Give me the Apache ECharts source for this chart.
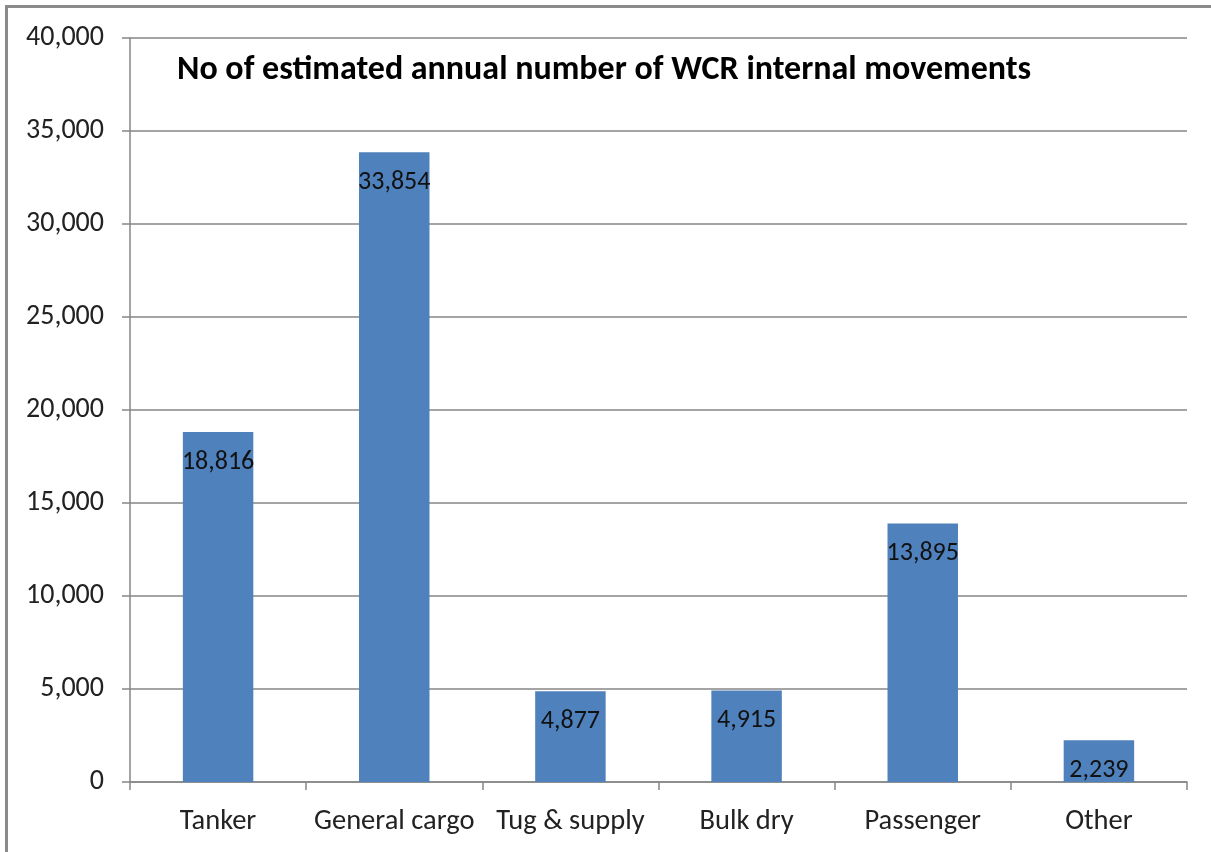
<!DOCTYPE html>
<html>
<head>
<meta charset="utf-8">
<style>
  html, body { margin: 0; padding: 0; background: #fff; }
  #frame { position: absolute; left: 5px; top: 5px; width: 1220px; height: 860px;
           border-top: 3px solid #8a8a8a; border-left: 3px solid #8a8a8a; box-sizing: border-box; }
  #chart { position: absolute; left: 0; top: 0; width: 1211px; height: 852px; }
</style>
<script src="https://cdn.jsdelivr.net/npm/echarts@6/dist/echarts.min.js"></script>
</head>
<body>
<div id="frame"></div>
<div id="chart"></div>
<script>
// Vessel categories and their estimated annual internal movements
const categories = ['Tanker', 'General cargo', 'Tug & supply', 'Bulk dry', 'Passenger', 'Other'];
const movements = [18816, 33854, 4877, 4915, 13895, 2239];
const titleText = 'No of estimated annual number of WCR internal movements';

const font = 'Carlito, "Open Sans", "Liberation Sans", sans-serif';
const fmt = v => v.toLocaleString('en-US');

const chart = echarts.init(document.getElementById('chart'), null, { renderer: 'canvas' });
chart.setOption({
  animation: false,
  title: {
    text: titleText,
    left: 172, top: 48,
    textStyle: { fontFamily: font, fontWeight: 'bold', fontSize: 34, color: '#000' }
  },
  grid: { left: 130, right: 24, top: 38, bottom: 70 },
  xAxis: {
    type: 'category',
    data: categories,
    axisLine: { lineStyle: { color: '#868686', width: 1.5 } },
    axisTick: { show: true, interval: 0, length: 8, lineStyle: { color: '#868686', width: 1.5 } },
    axisLabel: { interval: 0, fontFamily: font, fontSize: 28.5, color: '#222', margin: 25 }
  },
  yAxis: {
    type: 'value',
    min: 0, max: 40000, interval: 5000,
    axisLine: { show: true, lineStyle: { color: '#868686', width: 1.5 } },
    axisTick: { show: true, length: 8, lineStyle: { color: '#868686', width: 1.5 } },
    splitLine: { lineStyle: { color: '#868686', width: 1.5 } },
    axisLabel: { fontFamily: font, fontSize: 28, color: '#222', margin: 26, formatter: fmt }
  },
  series: [{
    type: 'bar',
    data: movements,
    barWidth: '40%',
    itemStyle: { color: '#4F81BD' },
    label: {
      show: true, position: 'insideTop', distance: 17,
      fontFamily: font, fontSize: 26, color: '#111',
      formatter: p => fmt(p.value)
    }
  }]
});
</script>
</body>
</html>
